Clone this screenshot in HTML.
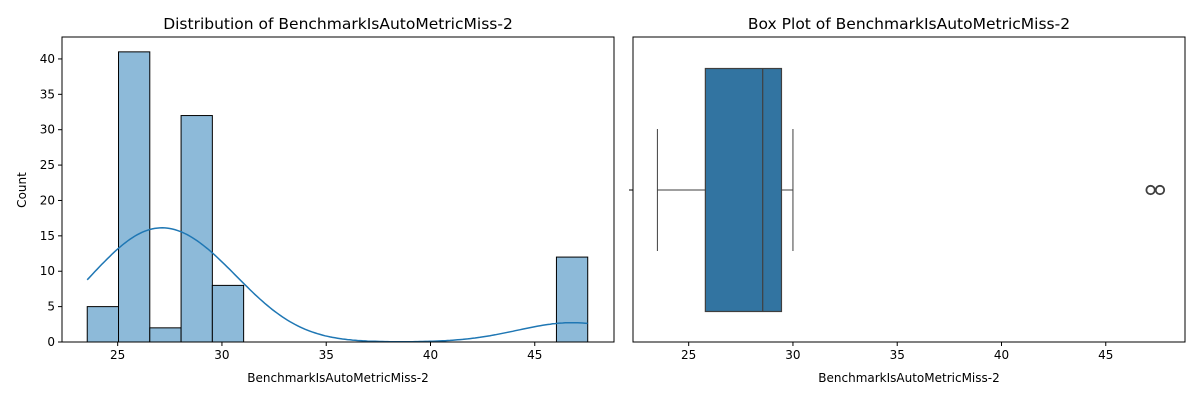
<!DOCTYPE html>
<html><head><meta charset="utf-8"><style>
body{margin:0;background:#fff;font-family:"Liberation Sans","DejaVu Sans",sans-serif}
svg text{font-family:"DejaVu Sans","Liberation Sans",sans-serif}
</style></head><body>
<svg id="c" width="1200" height="400" xmlns="http://www.w3.org/2000/svg"></svg>
<script>
const binStart = 23.54, binWidth = 1.5;
const binCounts = [5,41,2,32,8,0,0,0,0,0,0,0,0,0,0,12];
const xTicks = [25,30,35,40,45];
const yTicks = [0,5,10,15,20,25,30,35,40];
const boxStats = {wlo:23.5, q1:25.8, med:28.55, q3:29.45, whi:30.0};
const outliers = [47.15, 47.6];
const xMin = 22.33, xMax = 48.8, yMax = 43.1;

const svg = document.getElementById('c');
const NS = 'http://www.w3.org/2000/svg';
function mk(tag, attrs, parent, text){
  const e = document.createElementNS(NS, tag);
  for (const k in attrs) e.setAttribute(k, attrs[k]);
  if (text !== undefined) e.textContent = text;
  (parent||svg).appendChild(e); return e;
}
const L = {x0:62, x1:614, y0:37, y1:342};
const R = {x0:633, x1:1185, y0:37, y1:342};
const xl = v => L.x0 + (v - xMin)/(xMax - xMin)*(L.x1 - L.x0);
const xr = v => R.x0 + (v - xMin)/(xMax - xMin)*(R.x1 - R.x0);
const yl = v => L.y1 - v/yMax*(L.y1 - L.y0);

const gl = mk('g', {});


binCounts.forEach((c, i) => {
  if (c <= 0) return;
  const a = binStart + i*binWidth, b = a + binWidth;
  const r = mk('rect', {x:xl(a), y:yl(c), width:xl(b)-xl(a), height:yl(0)-yl(c), fill:'#8dbad9', stroke:'#000', 'stroke-width':1}, gl);
  
  
});
let n = 0, mean = 0;
binCounts.forEach((c,i)=>{n+=c; mean+=c*(binStart+(i+0.5)*binWidth);}); mean/=n;
let vr = 0; binCounts.forEach((c,i)=>{const m=binStart+(i+0.5)*binWidth; vr+=c*(m-mean)*(m-mean);}); vr/=(n-1);
const bw = Math.sqrt(vr)*Math.pow(n,-0.2);
const dMin = binStart, dMax = binStart + binCounts.length*binWidth;
let pts = [];
for (let k=0;k<=200;k++){
  const x = dMin + (dMax-dMin)*k/200; let d=0;
  binCounts.forEach((c,i)=>{const m=binStart+(i+0.5)*binWidth; const z=(x-m)/bw; d+=c*Math.exp(-0.5*z*z);});
  d = d/(n*bw*Math.sqrt(2*Math.PI)) * n * binWidth;
  pts.push(xl(x).toFixed(1)+','+yl(d).toFixed(1));
}
const kde = mk('polyline', {points:pts.join(' '), fill:'none', stroke:'#1f77b4', 'stroke-width':1.5}, gl);


mk('rect', {x:L.x0, y:L.y0, width:L.x1-L.x0, height:L.y1-L.y0, fill:'none', stroke:'#000', 'stroke-width':1}, gl);
xTicks.forEach(t=>{
  mk('line',{x1:xl(t),x2:xl(t),y1:L.y1,y2:L.y1+4,stroke:'#000'},gl);
  const tx = mk('text',{x:xl(t),y:L.y1+17,'text-anchor':'middle','font-size':12},gl,String(t));
   
});
yTicks.forEach(t=>{
  mk('line',{x1:L.x0-4,x2:L.x0,y1:yl(t),y2:yl(t),stroke:'#000'},gl);
  const tx = mk('text',{x:L.x0-7,y:yl(t)+4,'text-anchor':'end','font-size':12},gl,String(t));
   
});
let t1 = mk('text',{x:(L.x0+L.x1)/2,y:29,'text-anchor':'middle','font-size':15.5},gl,'Distribution of BenchmarkIsAutoMetricMiss-2');
 
let xa = mk('text',{x:(L.x0+L.x1)/2,y:382,'text-anchor':'middle','font-size':12},gl,'BenchmarkIsAutoMetricMiss-2');
 
let ya = mk('text',{x:0,y:0,'text-anchor':'middle','font-size':12,transform:'translate(26,190) rotate(-90)'},gl,'Count');
 

const gr = mk('g', {});


const cy = 190, bh = 243/2, ch = 122/2, col = '#3f3f3f';
mk('line',{x1:xr(boxStats.wlo),x2:xr(boxStats.q1),y1:cy,y2:cy,stroke:col},gr);
mk('line',{x1:xr(boxStats.q3),x2:xr(boxStats.whi),y1:cy,y2:cy,stroke:col},gr);
mk('line',{x1:xr(boxStats.wlo),x2:xr(boxStats.wlo),y1:cy-ch,y2:cy+ch,stroke:col},gr);
mk('line',{x1:xr(boxStats.whi),x2:xr(boxStats.whi),y1:cy-ch,y2:cy+ch,stroke:col},gr);
const box = mk('rect',{x:xr(boxStats.q1),y:cy-bh,width:xr(boxStats.q3)-xr(boxStats.q1),height:2*bh,fill:'#3274a1',stroke:col,'stroke-width':1.2},gr);
 
mk('line',{x1:xr(boxStats.med),x2:xr(boxStats.med),y1:cy-bh,y2:cy+bh,stroke:col,'stroke-width':1.2},gr);
outliers.forEach(o=>{
  const c = mk('circle',{cx:xr(o),cy:cy,r:4.2,fill:'none',stroke:col,'stroke-width':1.8},gr);
   
});
mk('rect', {x:R.x0, y:R.y0, width:R.x1-R.x0, height:R.y1-R.y0, fill:'none', stroke:'#000', 'stroke-width':1}, gr);
mk('line',{x1:R.x0-4,x2:R.x0,y1:cy,y2:cy,stroke:'#000'},gr);
xTicks.forEach(t=>{
  mk('line',{x1:xr(t),x2:xr(t),y1:R.y1,y2:R.y1+4,stroke:'#000'},gr);
  const tx = mk('text',{x:xr(t),y:R.y1+17,'text-anchor':'middle','font-size':12},gr,String(t));
   
});
let t2 = mk('text',{x:(R.x0+R.x1)/2,y:29,'text-anchor':'middle','font-size':15.5},gr,'Box Plot of BenchmarkIsAutoMetricMiss-2');
 
let xb = mk('text',{x:(R.x0+R.x1)/2,y:382,'text-anchor':'middle','font-size':12},gr,'BenchmarkIsAutoMetricMiss-2');
 
</script>
</body></html>
